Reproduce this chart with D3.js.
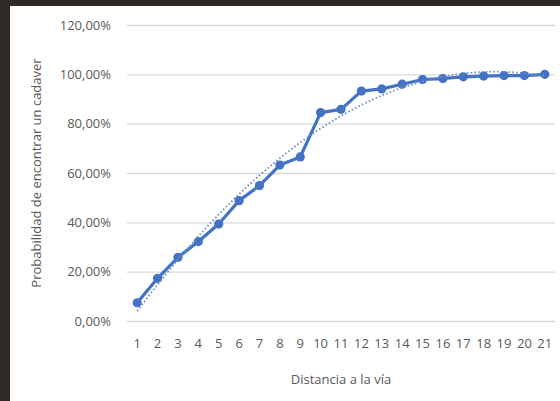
<!DOCTYPE html>
<html>
<head>
<meta charset="utf-8">
<script src="https://cdn.jsdelivr.net/npm/d3@7"></script>
<style>
  html, body { margin: 0; padding: 0; background: #fff; }
  svg { display: block; }
  text { font-family: "Open Sans", "DejaVu Sans", sans-serif; }
</style>
</head>
<body>
<svg id="chart" width="560" height="401"></svg>
<script>
// Distance to the track (categories) and cumulative probability (%)
const distances = ["1","2","3","4","5","6","7","8","9","10","11","12","13","14","15","16","17","18","19","20","21"];
const probabilities = [7.4, 17.3, 25.8, 32.2, 39.3, 48.8, 54.9, 63.2, 66.5, 84.5, 85.8, 93.2, 94.1, 96.0, 97.9, 98.3, 99.0, 99.3, 99.5, 99.5, 100.0];
const yTicks = [0, 20, 40, 60, 80, 100, 120];
const xTitle = "Distancia a la vía";
const yTitle = "Probabilidad de encontrar un cadaver";
const trendDegree = 2;

const W = 560, H = 401;
const plot = { left: 127, right: 555, top: 25, bottom: 321 };

const svg = d3.select("#chart");

// page frame
svg.append("rect").attr("width", W).attr("height", H).attr("fill", "#ffffff");
svg.append("rect").attr("x", 0).attr("y", 0).attr("width", W).attr("height", 6).attr("fill", "#2e2925");
svg.append("rect").attr("x", 0).attr("y", 0).attr("width", 10).attr("height", H).attr("fill", "#2e2925");

const x = d3.scaleBand().domain(distances).range([plot.left, plot.right]);
const y = d3.scaleLinear().domain([0, 120]).range([plot.bottom, plot.top]);
const cx = d => x(d) + x.bandwidth() / 2;

const fmt = v => d3.format(".2f")(v).replace(".", ",") + "%";

// gridlines + y labels
const yAxis = d3.axisLeft(y).tickValues(yTicks).tickFormat(fmt)
  .tickSize(-(plot.right - plot.left)).tickPadding(16);
const gy = svg.append("g").attr("transform", `translate(${plot.left},0)`).call(yAxis);
gy.select(".domain").remove();
gy.selectAll(".tick line").attr("stroke", "#d9d9d9").attr("stroke-width", 1.3);
gy.selectAll(".tick text").attr("fill", "#595959").style("font-size", "13px");

// x labels
const xAxis = d3.axisBottom(x).tickSize(0).tickPadding(18);
const gx = svg.append("g").attr("transform", `translate(0,${plot.bottom})`).call(xAxis);
gx.select(".domain").remove();
gx.selectAll(".tick text").attr("fill", "#595959").style("font-size", "13px");

// axis titles
svg.append("text").attr("x", (plot.left + plot.right) / 2).attr("y", 384)
  .attr("text-anchor", "middle").attr("fill", "#595959").style("font-size", "13px").text(xTitle);
svg.append("text").attr("transform", `translate(41,${(plot.top + plot.bottom) / 2}) rotate(-90)`)
  .attr("text-anchor", "middle").attr("fill", "#595959").style("font-size", "13px").text(yTitle);

// polynomial least-squares trendline over category index 1..n
function polyFit(xs, ys, deg) {
  const n = deg + 1;
  const A = Array.from({ length: n }, () => new Array(n + 1).fill(0));
  for (let i = 0; i < xs.length; i++) {
    for (let r = 0; r < n; r++) {
      for (let c = 0; c < n; c++) A[r][c] += Math.pow(xs[i], r + c);
      A[r][n] += ys[i] * Math.pow(xs[i], r);
    }
  }
  for (let p = 0; p < n; p++) {
    let m = p;
    for (let r = p + 1; r < n; r++) if (Math.abs(A[r][p]) > Math.abs(A[m][p])) m = r;
    [A[p], A[m]] = [A[m], A[p]];
    for (let r = 0; r < n; r++) {
      if (r === p) continue;
      const f = A[r][p] / A[p][p];
      for (let c = p; c <= n; c++) A[r][c] -= f * A[p][c];
    }
  }
  return A.map((row, i) => row[n] / row[i]);
}
const idx = distances.map((d, i) => i + 1);
const coef = polyFit(idx, probabilities, trendDegree);
const evalPoly = t => coef.reduce((s, c, k) => s + c * Math.pow(t, k), 0);
const step = x.step();
const xIdx = t => cx(distances[0]) + (t - 1) * step;
const trendPts = d3.range(1, distances.length + 0.001, 0.1).map(t => [xIdx(t), y(evalPoly(t))]);

// data series
const line = d3.line().x(d => cx(d.d)).y(d => y(d.v));
const data = distances.map((d, i) => ({ d, v: probabilities[i] }));
svg.append("path").datum(data).attr("d", line).attr("fill", "none")
  .attr("stroke", "#4472c4").attr("stroke-width", 3.2).attr("stroke-linejoin", "round");
svg.append("g").selectAll("circle").data(data).join("circle")
  .attr("cx", d => cx(d.d)).attr("cy", d => y(d.v)).attr("r", 4.6).attr("fill", "#4472c4");

svg.append("path").datum(trendPts).attr("d", d3.line()).attr("fill", "none")
  .attr("stroke", "#6f8fc6").attr("stroke-width", 1.8)
  .attr("stroke-dasharray", "1.6,2.2");
</script>
</body>
</html>
